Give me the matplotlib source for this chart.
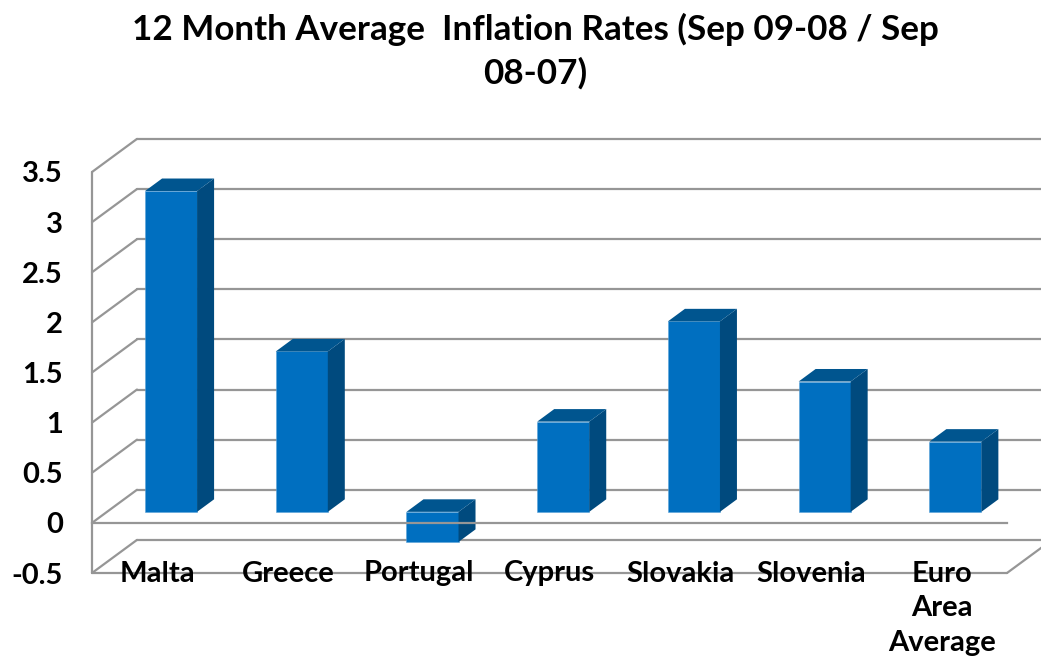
import matplotlib
matplotlib.use('Agg')
import matplotlib.pyplot as plt

countries = ['Malta', 'Greece', 'Portugal', 'Cyprus', 'Slovakia', 'Slovenia', 'Euro\nArea\nAverage']
inflation = [3.2, 1.6, -0.3, 0.9, 1.9, 1.3, 0.7]
y_ticks = [-0.5, 0, 0.5, 1, 1.5, 2, 2.5, 3, 3.5]
y_labels = ['-0.5', '0', '0.5', '1', '1.5', '2', '2.5', '3', '3.5']
title = '12 Month Average  Inflation Rates (Sep 09-08 / Sep\n08-07)'

# oblique projection of the fake 3d, in data units
wall_dx, wall_dy = 0.344, 0.33
bar_shift_x, bar_shift_y = 0.105, 0.11
bar_dx, bar_dy = 0.13, 0.125
bar_width = 0.398

grid_color = '#969696'
front_color = '#006FC0'
top_color = '#00558F'
side_color = '#004A7E'

plt.rcParams['font.family'] = ['Lato', 'DejaVu Sans']

fig = plt.figure(figsize=(10.41, 6.64), dpi=100)
ax = fig.add_axes([92 / 1041, 91 / 664, 915 / 1041, 401 / 664])
ax.set_xlim(-0.5, 6.5)
ax.set_ylim(-0.5, 3.5)
for spine in ax.spines.values():
    spine.set_visible(False)

left, right = ax.get_xlim()
line_style = dict(color=grid_color, lw=1.6, clip_on=False, zorder=1, solid_capstyle='round')

# left wall, back wall and floor
ax.plot([left, left], [-0.5, 3.5], **line_style)
for tick in y_ticks:
    ax.plot([left, left + wall_dx], [tick, tick + wall_dy], **line_style)
    ax.plot([left + wall_dx, right + wall_dx], [tick + wall_dy, tick + wall_dy], **line_style)
ax.plot([left, right], [-0.5, -0.5], **line_style)
ax.plot([right, right + wall_dx], [-0.5, -0.5 + wall_dy], **line_style)

# bars
for i, value in enumerate(inflation):
    x0 = i - bar_width / 2 + bar_shift_x
    x1 = x0 + bar_width
    y0 = min(value, 0) + bar_shift_y
    y1 = max(value, 0) + bar_shift_y
    ax.bar(x0, y1 - y0, width=bar_width, bottom=y0, align='edge', color=front_color,
           edgecolor='#5BA3D9', linewidth=0.4, zorder=3, clip_on=False)
    ax.fill([x1, x1 + bar_dx, x1 + bar_dx, x1], [y0, y0 + bar_dy, y1 + bar_dy, y1],
            color=side_color, lw=0, zorder=3, clip_on=False)
    ax.fill([x0, x0 + bar_dx, x1 + bar_dx, x1], [y1, y1 + bar_dy, y1 + bar_dy, y1],
            color=top_color, lw=0, zorder=3, clip_on=False)

# zero line runs across the front of the portugal bar
ax.plot([left, right], [0, 0], color=grid_color, lw=1.6, clip_on=False, zorder=4)

ax.set_xticks(range(len(countries)))
ax.set_xticklabels(countries, fontsize=21, fontweight='bold', linespacing=1.42)
ax.set_yticks(y_ticks)
ax.set_yticklabels(y_labels, fontsize=21, fontweight='bold')
ax.tick_params(axis='x', length=0, pad=-9)
ax.tick_params(axis='y', length=0, pad=21)
for label in ax.get_xticklabels():
    label.set_zorder(5)

fig.text(535 / 1041, 1 - 51 / 664, title, ha='center', va='center', fontsize=25.2,
         fontweight='bold', linespacing=1.42)

fig.savefig('out.png', dpi=100)
